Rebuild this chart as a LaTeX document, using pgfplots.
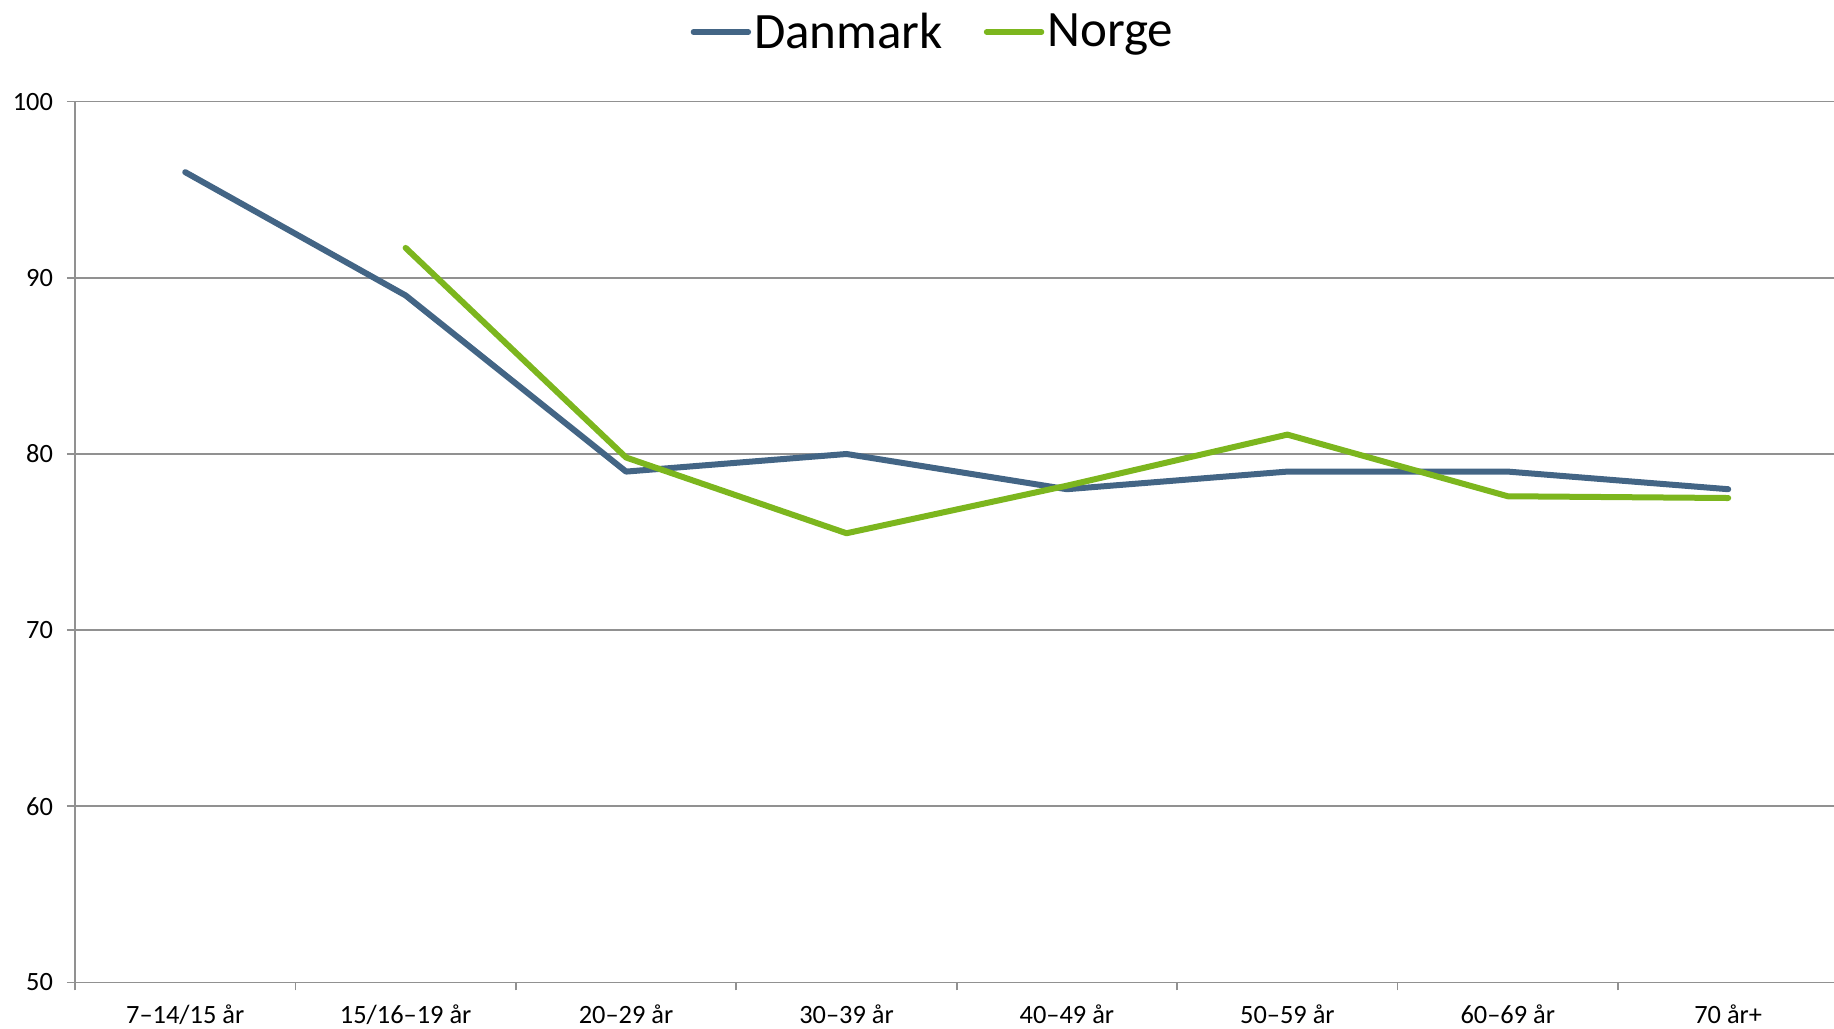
\documentclass[border=0pt]{standalone}
\usepackage{fontspec}
\setmainfont{Carlito}
\usepackage{pgfplots}
\pgfplotsset{compat=1.18}
\definecolor{dk}{RGB}{67,101,133}
\definecolor{no}{RGB}{124,182,30}
\definecolor{gridc}{RGB}{145,145,145}
\begin{document}
\begin{tikzpicture}
\begin{axis}[
  scale only axis, width=879.5pt, height=440.35pt,
  xmin=-0.5, xmax=7.48, ymin=50, ymax=100,
  ytick={50,60,...,100},
  xtick={-0.5,0.5,...,6.5}, xticklabels={},
  extra x ticks={0,1,2,3,4,5,6,7},
  extra x tick labels={7–14/15 år,15/16–19 år,20–29 år,30–39 år,40–49 år,50–59 år,60–69 år,70 år+},
  extra x tick style={major tick length=0pt, xticklabel style={yshift=-7.8pt}},
  axis x line*=bottom, axis y line*=left,
  axis line style={draw=gridc, line width=0.8pt, -},
  tick align=outside, major tick length=4pt,
  tick style={draw=gridc, line width=0.8pt},
  ymajorgrids=true,
  grid style={draw=gridc, line width=0.8pt},
  /pgf/number format/assume math mode=true,
  tick label style={font=\fontsize{13.2}{15}\selectfont, text=black},
  yticklabel style={xshift=-3.5pt},
  legend style={at={(axis description cs:0.488,1)}, anchor=center, yshift=34.85pt,
    draw=none, fill=none, font=\fontsize{25.5}{30}\selectfont,
    /tikz/every even column/.append style={column sep=19pt},
    nodes={inner sep=1.5pt}},
  legend columns=2,
  legend image code/.code={\draw[#1, line width=2.7pt, line cap=round] (0pt,0pt) -- (27.5pt,0pt);},
  clip=false,
]
\coordinate (bl) at (rel axis cs:0,0);
\coordinate (tr) at (rel axis cs:1,1);
\addplot[dk, line width=3pt, line cap=round, line join=round] coordinates {
 (0,96) (1,89) (2,79) (3,80) (4,78) (5,79) (6,79) (7,78)};
\addlegendentry{Danmark}
\addplot[no, line width=3pt, line cap=round, line join=round] coordinates {
 (1,91.7) (2,79.8) (3,75.5) (4,78.2) (5,81.1) (6,77.6) (7,77.5)};
\addlegendentry{Norge}
\end{axis}
\pgfresetboundingbox
\path[use as bounding box] ([shift={(-37.5pt,-22.8pt)}]bl) rectangle ([shift={(0pt,50.85pt)}]tr);
\end{tikzpicture}
\end{document}
